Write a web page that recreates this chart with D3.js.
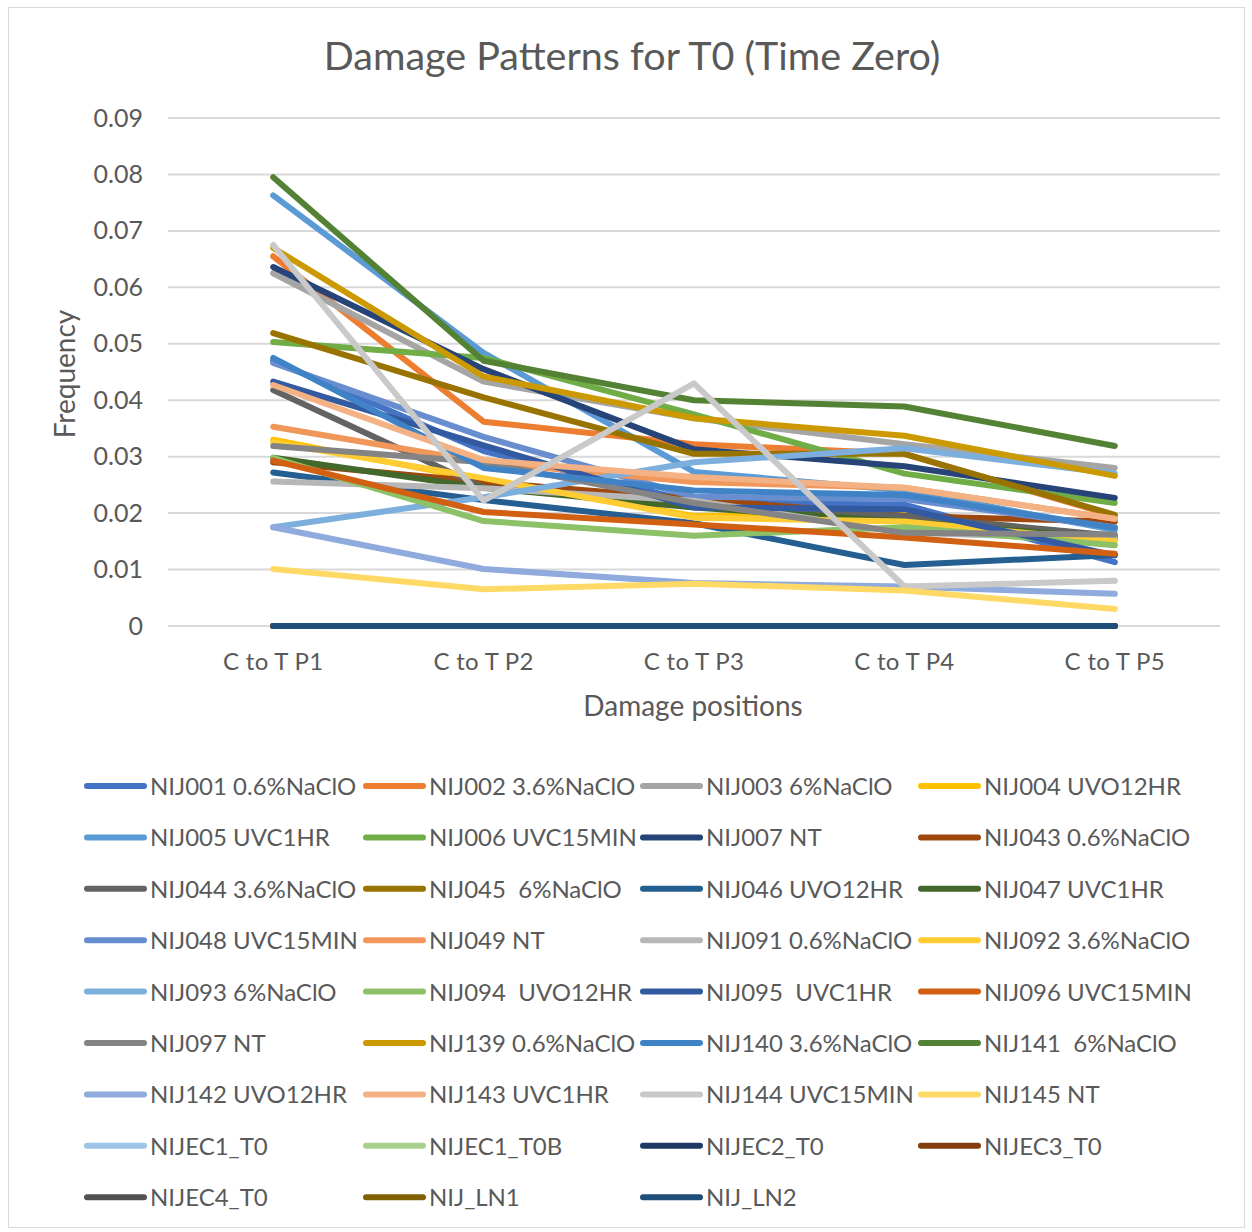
<!DOCTYPE html>
<html>
<head>
<meta charset="utf-8">
<script src="https://cdn.jsdelivr.net/npm/d3@7"></script>
<style>
  html, body { margin: 0; padding: 0; background: #fff; }
  svg text { font-family: Lato, "Open Sans", sans-serif; fill: #595959; }
</style>
</head>
<body>
<svg id="chart" width="1252" height="1232"></svg>
<script>
// Damage positions along the read (C to T substitutions)
const positions = ["C to T P1", "C to T P2", "C to T P3", "C to T P4", "C to T P5"];
const yTicks = [0, 0.01, 0.02, 0.03, 0.04, 0.05, 0.06, 0.07, 0.08, 0.09];

const sampleNames = [
  "NIJ001 0.6%NaClO", "NIJ002 3.6%NaClO", "NIJ003 6%NaClO", "NIJ004 UVO12HR",
  "NIJ005 UVC1HR", "NIJ006 UVC15MIN", "NIJ007 NT", "NIJ043 0.6%NaClO",
  "NIJ044 3.6%NaClO", "NIJ045  6%NaClO", "NIJ046 UVO12HR", "NIJ047 UVC1HR",
  "NIJ048 UVC15MIN", "NIJ049 NT", "NIJ091 0.6%NaClO", "NIJ092 3.6%NaClO",
  "NIJ093 6%NaClO", "NIJ094  UVO12HR", "NIJ095  UVC1HR", "NIJ096 UVC15MIN",
  "NIJ097 NT", "NIJ139 0.6%NaClO", "NIJ140 3.6%NaClO", "NIJ141  6%NaClO",
  "NIJ142 UVO12HR", "NIJ143 UVC1HR", "NIJ144 UVC15MIN", "NIJ145 NT",
  "NIJEC1_T0", "NIJEC1_T0B", "NIJEC2_T0", "NIJEC3_T0",
  "NIJEC4_T0", "NIJ_LN1", "NIJ_LN2"
];

const sampleColors = [
  "#4472C4", "#ED7D31", "#A5A5A5", "#FFC000",
  "#5B9BD5", "#70AD47", "#264478", "#9E480E",
  "#636363", "#997300", "#255E91", "#43682B",
  "#698ED0", "#F1975A", "#B7B7B7", "#FFCD33",
  "#7CAFDD", "#8CC168", "#335AA1", "#D26012",
  "#848484", "#CC9A00", "#3F83C6", "#548235",
  "#8FAADC", "#F4B183", "#C9C9C9", "#FFD966",
  "#9DC3E6", "#A9D18E", "#203864", "#843C0C",
  "#525252", "#806000", "#1F4E79"
];

// Frequency of C->T at positions 1..5 for each sample
const frequencies = [
  [0.0470, 0.0310, 0.0220, 0.0215, 0.0113],
  [0.0655, 0.0362, 0.0322, 0.0305, 0.0195],
  [0.0625, 0.0433, 0.0368, 0.0322, 0.0280],
  [0.0330, 0.0258, 0.0195, 0.0198, 0.0155],
  [0.0763, 0.0484, 0.0273, 0.0240, 0.0170],
  [0.0503, 0.0475, 0.0375, 0.0270, 0.0218],
  [0.0636, 0.0455, 0.0313, 0.0283, 0.0227],
  [0.0290, 0.0255, 0.0225, 0.0195, 0.0185],
  [0.0418, 0.0245, 0.0215, 0.0195, 0.0160],
  [0.0519, 0.0405, 0.0305, 0.0305, 0.0197],
  [0.0272, 0.0223, 0.0182, 0.0108, 0.0126],
  [0.0298, 0.0245, 0.0210, 0.0185, 0.0155],
  [0.0466, 0.0335, 0.0229, 0.0225, 0.0175],
  [0.0353, 0.0290, 0.0255, 0.0245, 0.0190],
  [0.0256, 0.0244, 0.0222, 0.0165, 0.0155],
  [0.0325, 0.0262, 0.0192, 0.0185, 0.0150],
  [0.0175, 0.0228, 0.0290, 0.0315, 0.0270],
  [0.0298, 0.0186, 0.0160, 0.0175, 0.0143],
  [0.0433, 0.0320, 0.0210, 0.0207, 0.0125],
  [0.0293, 0.0202, 0.0180, 0.0157, 0.0128],
  [0.0319, 0.0290, 0.0218, 0.0165, 0.0162],
  [0.0670, 0.0442, 0.0368, 0.0337, 0.0266],
  [0.0475, 0.0280, 0.0240, 0.0232, 0.0174],
  [0.0795, 0.0470, 0.0400, 0.0389, 0.0319],
  [0.0175, 0.0101, 0.0076, 0.0070, 0.0057],
  [0.0427, 0.0294, 0.0264, 0.0245, 0.0190],
  [0.0675, 0.0222, 0.0430, 0.0070, 0.0080],
  [0.0101, 0.0065, 0.0075, 0.0063, 0.0030],
  [0, 0, 0, 0, 0],
  [0, 0, 0, 0, 0],
  [0, 0, 0, 0, 0],
  [0, 0, 0, 0, 0],
  [0, 0, 0, 0, 0],
  [0, 0, 0, 0, 0],
  [0, 0, 0, 0, 0]
];

const series = sampleNames.map((name, i) => ({
  name, color: sampleColors[i],
  values: positions.map((p, j) => ({ pos: p, v: frequencies[i][j] }))
}));

const svg = d3.select("#chart");
const plot = { left: 168, right: 1220, top: 118, bottom: 626 };

svg.append("rect")
  .attr("x", 8.5).attr("y", 7.5).attr("width", 1236).attr("height", 1220)
  .attr("fill", "#fff").attr("stroke", "#D9D9D9").attr("stroke-width", 1);

const x = d3.scaleBand().domain(positions).range([plot.left, plot.right]);
const y = d3.scaleLinear().domain([0, 0.09]).range([plot.bottom, plot.top]);

// gridlines
svg.append("g")
  .selectAll("line").data(yTicks).join("line")
  .attr("x1", plot.left).attr("x2", plot.right)
  .attr("y1", d => y(d)).attr("y2", d => y(d))
  .attr("stroke", "#D9D9D9").attr("stroke-width", 2);

// y axis labels
const yAxis = svg.append("g")
  .attr("transform", `translate(${plot.left - 25},0)`)
  .call(d3.axisLeft(y).tickValues(yTicks).tickSize(0).tickPadding(0)
    .tickFormat(d => d === 0 ? "0" : d3.format(".2f")(d)));
yAxis.select(".domain").remove();
yAxis.selectAll("text").attr("font-size", 25).attr("fill", "#595959")
  .style("font-family", "Lato");

// x axis labels
const xAxis = svg.append("g")
  .attr("transform", `translate(0,${plot.bottom})`)
  .call(d3.axisBottom(x).tickSize(0).tickPadding(44));
xAxis.select(".domain").remove();
xAxis.selectAll("text").attr("font-size", 24).attr("fill", "#595959")
  .attr("dy", "0").style("font-family", "Lato")
  .attr("letter-spacing", 0.3);

// lines
const line = d3.line()
  .x(d => x(d.pos) + x.bandwidth() / 2)
  .y(d => y(d.v));

svg.append("g").selectAll("path").data(series).join("path")
  .attr("d", d => line(d.values))
  .attr("fill", "none")
  .attr("stroke", d => d.color)
  .attr("stroke-width", 6)
  .attr("stroke-linejoin", "round")
  .attr("stroke-linecap", "round");

// title and axis titles
svg.append("text").attr("x", 632).attr("y", 70)
  .attr("text-anchor", "middle").attr("font-size", 39.5)
  .text("Damage Patterns for T0 (Time Zero)");

svg.append("text").attr("x", 693).attr("y", 716)
  .attr("text-anchor", "middle").attr("font-size", 28)
  .text("Damage positions");

svg.append("text")
  .attr("transform", "translate(75,374) rotate(-90)")
  .attr("text-anchor", "middle").attr("font-size", 28)
  .text("Frequency");

// legend: 4 columns, rows in reading order
const legend = svg.append("g");
const colX = [84, 363, 640, 918];
const rowY0 = 786, rowStep = 51.4;
const items = legend.selectAll("g").data(series).join("g")
  .attr("transform", (d, i) => `translate(${colX[i % 4]},${rowY0 + Math.floor(i / 4) * rowStep})`);
items.append("line")
  .attr("x1", 3).attr("x2", 60).attr("y1", 0).attr("y2", 0)
  .attr("stroke", d => d.color).attr("stroke-width", 6).attr("stroke-linecap", "round");
items.append("text")
  .attr("x", 66).attr("y", 9).attr("font-size", 24)
  .attr("xml:space", "preserve")
  .text(d => d.name);
</script>
</body>
</html>
